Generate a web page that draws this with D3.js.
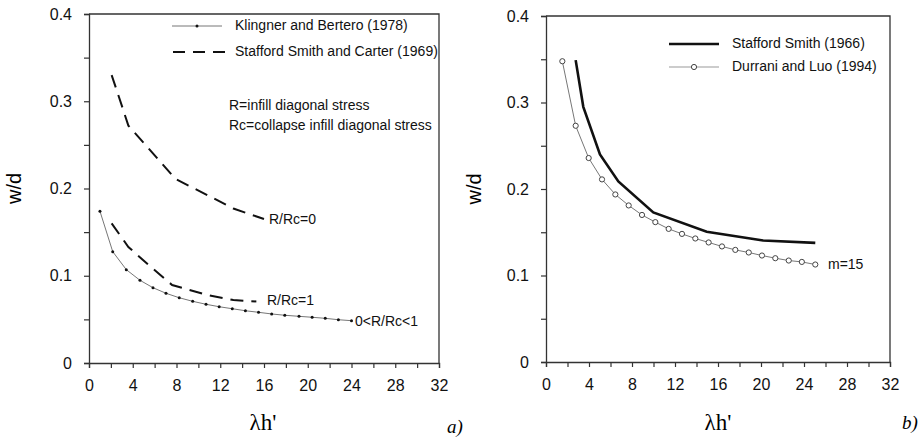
<!DOCTYPE html>
<html><head><meta charset="utf-8">
<script src="https://cdn.jsdelivr.net/npm/d3@7"></script>
<style>body{margin:0;background:#fff}svg{display:block}</style>
</head><body>
<svg id="c" width="918" height="441"></svg>
<script>
// ---- data ----
const xTicks = [0,4,8,12,16,20,24,28,32];
const yTicks = [0,0.1,0.2,0.3,0.4];
const klingnerX = [1.0,2.17,3.41,4.66,5.85,7.04,8.25,9.48,10.7,11.9,13.1,14.3,15.5,16.7,17.9,19.2,20.4,21.6,22.8,24.0];
const klingnerY = [0.174,0.1276,0.107,0.0948,0.0863,0.0799,0.0748,0.0707,0.0673,0.0645,0.0622,0.0599,0.0581,0.0562,0.0547,0.0535,0.0524,0.0512,0.0496,0.0485];
const scR0X = [2.07,3.0,3.6,5.3,7.9,11.2,13.2,16.0];
const scR0Y = [0.330,0.295,0.272,0.248,0.211,0.190,0.177,0.165];
const scR1X = [2.07,3.6,5.3,7.6,10.8,13.2,15.3];
const scR1Y = [0.160,0.133,0.114,0.0894,0.078,0.0722,0.0705];
const ssX = [2.76,3.47,5.02,6.73,9.98,14.95,20.2,25.05];
const ssY = [0.349,0.295,0.240,0.2088,0.1729,0.1505,0.1405,0.1377];
const dlX = [1.52,2.76,3.97,5.21,6.45,7.69,8.93,10.17,11.41,12.65,13.89,15.13,16.37,17.61,18.86,20.09,21.33,22.58,23.8,25.05];
const dlY = [0.3477,0.2731,0.2358,0.2111,0.1937,0.181,0.170,0.1617,0.1539,0.1481,0.1428,0.1382,0.1336,0.1296,0.1266,0.1231,0.12,0.1173,0.1157,0.1127];

const svg = d3.select("#c");
const axisCol = "#333";
const SANS = "'Liberation Sans', Arial, sans-serif";
const SERIF = "'Liberation Serif', 'DejaVu Serif', serif";

function panel(left, right, top, bottom, letter, letterX, letterY, labX, labY, wdX) {
  const x = d3.scaleLinear().domain([0,32]).range([left,right]);
  const y = d3.scaleLinear().domain([0,0.4]).range([bottom,top]);
  const g = svg.append("g");
  const xa = g.append("g").attr("transform",`translate(0,${bottom})`)
    .call(d3.axisBottom(x).tickValues(d3.range(0,33,2)).tickSize(5).tickPadding(12)
      .tickFormat(d => xTicks.includes(d) ? d : ""));
  const ya = g.append("g").attr("transform",`translate(${left},0)`)
    .call(d3.axisLeft(y).tickValues(d3.range(0,0.401,0.05)).tickSize(5).tickPadding(12)
      .tickFormat(d => { const r = Math.round(d*100)/100; return yTicks.some(t=>Math.abs(t-r)<1e-9) ? (r===0?"0":r.toFixed(1)) : ""; }));
  [xa,ya].forEach(a => {
    a.select(".domain").attr("stroke",axisCol).attr("stroke-width",1.3);
    a.selectAll(".tick line").attr("stroke",axisCol).attr("stroke-width",1.2);
    a.selectAll("text").style("font-family",SANS).attr("font-size",16).attr("fill","#111");
  });
  g.append("path").attr("d",`M${left},${top}H${right}V${bottom}`).attr("fill","none").attr("stroke",axisCol).attr("stroke-width",1.3);
  g.append("text").attr("x",labX).attr("y",labY).attr("text-anchor","middle")
    .style("font-family",SERIF).attr("font-size",23).text("λh'");
  g.append("text").attr("transform",`translate(${wdX},${(top+bottom)/2}) rotate(-90)`).attr("text-anchor","middle")
    .attr("dominant-baseline","middle")
    .style("font-family",SANS).attr("font-size",20).text("w/d");
  g.append("text").attr("x",letterX).attr("y",letterY)
    .style("font-family",SERIF).attr("font-style","italic").attr("font-size",19).text(letter);
  return {x,y,g};
}

const A = panel(89, 439, 14, 363, "a)", 447, 433, 263, 430, 16);
const B = panel(546, 890, 16, 362, "b)", 902, 429, 718, 430, 476);

const line = (sc) => d3.line().x(d=>sc.x(d[0])).y(d=>sc.y(d[1]));
const zip = (xs,ys) => xs.map((v,i)=>[v,ys[i]]);
const txt = (g,x,y,s,size) => g.append("text").attr("x",x).attr("y",y).attr("dominant-baseline","middle")
  .style("font-family",SANS).attr("font-size",size||14).attr("fill","#111").text(s);

// ---- panel a ----
A.g.append("path").datum(zip(scR0X,scR0Y)).attr("d",line(A)).attr("fill","none").attr("stroke","#111").attr("stroke-width",2).attr("stroke-dasharray","13,8");
A.g.append("path").datum(zip(scR1X,scR1Y)).attr("d",line(A)).attr("fill","none").attr("stroke","#111").attr("stroke-width",2).attr("stroke-dasharray","13,8");
A.g.append("path").datum(zip(klingnerX,klingnerY)).attr("d",line(A)).attr("fill","none").attr("stroke","#777").attr("stroke-width",1);
A.g.selectAll("circle.k").data(zip(klingnerX,klingnerY)).join("circle").attr("class","k")
  .attr("cx",d=>A.x(d[0])).attr("cy",d=>A.y(d[1])).attr("r",1.5).attr("fill","#111");
A.g.append("line").attr("x1",172).attr("x2",222).attr("y1",26).attr("y2",26).attr("stroke","#777").attr("stroke-width",1);
A.g.append("circle").attr("cx",197).attr("cy",26).attr("r",1.5).attr("fill","#111");
txt(A.g,235,26,"Klingner and Bertero (1978)");
A.g.append("line").attr("x1",173).attr("x2",226).attr("y1",52).attr("y2",52).attr("stroke","#111").attr("stroke-width",2).attr("stroke-dasharray","12,8");
txt(A.g,235,52,"Stafford Smith and Carter (1969)");
txt(A.g,229,106,"R=infill diagonal stress");
txt(A.g,229,126,"Rc=collapse infill diagonal stress");
txt(A.g,269,220,"R/Rc=0");
txt(A.g,267,301,"R/Rc=1");
txt(A.g,355,322,"0<R/Rc<1");

// ---- panel b ----
B.g.append("path").datum(zip(ssX,ssY)).attr("d",line(B)).attr("fill","none").attr("stroke","#111").attr("stroke-width",2.6);
B.g.append("path").datum(zip(dlX,dlY)).attr("d",line(B)).attr("fill","none").attr("stroke","#777").attr("stroke-width",1);
B.g.selectAll("circle.d").data(zip(dlX,dlY)).join("circle").attr("class","d")
  .attr("cx",d=>B.x(d[0])).attr("cy",d=>B.y(d[1])).attr("r",2.6).attr("fill","#fff").attr("stroke","#444").attr("stroke-width",1);
B.g.append("line").attr("x1",669).attr("x2",719).attr("y1",44).attr("y2",44).attr("stroke","#111").attr("stroke-width",2.6);
txt(B.g,732,44,"Stafford Smith (1966)");
B.g.append("line").attr("x1",669).attr("x2",719).attr("y1",67).attr("y2",67).attr("stroke","#999").attr("stroke-width",1.2);
B.g.append("circle").attr("cx",694).attr("cy",67).attr("r",2.6).attr("fill","#fff").attr("stroke","#444");
txt(B.g,732,67,"Durrani and Luo (1994)");
txt(B.g,828,265,"m=15");
</script>
</body></html>
